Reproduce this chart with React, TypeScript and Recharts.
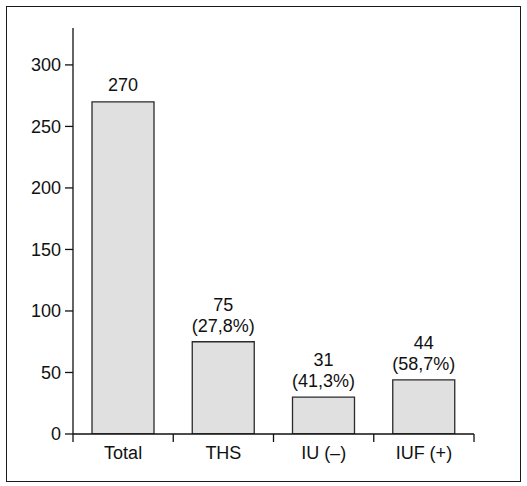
import { BarChart, Bar, XAxis, YAxis, LabelList } from "recharts";

const categories = ["Total", "THS", "IU (–)", "IUF (+)"];
const barValues = [270, 75, 30, 44];
const labelCounts = ["270", "75", "31", "44"];
const labelPercents = ["", "(27,8%)", "(41,3%)", "(58,7%)"];
const yTicks = [0, 50, 100, 150, 200, 250, 300];

const data = categories.map((name, i) => ({
  name,
  value: barValues[i],
  count: labelCounts[i],
  pct: labelPercents[i],
}));

const W = 527;
const H = 486;
const margin = { top: 28, right: 53, bottom: 0, left: 0 };
const Y_AXIS_W = 73;
const BAND = (W - Y_AXIS_W - margin.right) / categories.length;
const FONT = "'Liberation Sans', Arial, Helvetica, sans-serif";
const FS = 18;
const INK = "#111";

const CategoryTick = (props: any) => {
  const { x, y, payload, index } = props;
  const half = BAND / 2;
  return (
    <g>
      <line x1={x - half} x2={x - half} y1={y} y2={y + 8} stroke={INK} strokeWidth={1.3} />
      {index === categories.length - 1 && (
        <line x1={x + half} x2={x + half} y1={y} y2={y + 8} stroke={INK} strokeWidth={1.3} />
      )}
      <text x={x} y={y + 25} textAnchor="middle" fontSize={FS} fontFamily={FONT} fill={INK}>
        {payload.value}
      </text>
    </g>
  );
};

const BarTopLabel = (props: any) => {
  const { x, y, width, index } = props;
  const cx = x + width / 2;
  const row = data[index];
  if (!row.pct) {
    return (
      <text x={cx} y={y - 11} textAnchor="middle" fontSize={FS} fontFamily={FONT} fill={INK}>
        {row.count}
      </text>
    );
  }
  return (
    <g>
      <text x={cx} y={y - 31} textAnchor="middle" fontSize={FS} fontFamily={FONT} fill={INK}>
        {row.count}
      </text>
      <text x={cx} y={y - 10} textAnchor="middle" fontSize={FS} fontFamily={FONT} fill={INK}>
        {row.pct}
      </text>
    </g>
  );
};

export default function App() {
  return (
    <div style={{ position: "absolute", left: 0, top: 0, width: W, height: H, background: "#fff" }}>
      <div
        style={{
          position: "absolute",
          left: 6,
          top: 6,
          width: 515,
          height: 476,
          border: "1.5px solid #1a1a1a",
          boxSizing: "border-box",
        }}
      />
      <div style={{ position: "absolute", left: 0, top: 0 }}>
        <BarChart width={W} height={H} data={data} margin={margin} barSize={62}>
          <YAxis
            width={Y_AXIS_W}
            domain={[0, 330]}
            ticks={yTicks}
            allowDataOverflow
            tickSize={8}
            tickMargin={4}
            axisLine={{ stroke: INK, strokeWidth: 1.3 }}
            tickLine={{ stroke: INK, strokeWidth: 1.3 }}
            tick={{ fontSize: FS, fontFamily: FONT, fill: INK }}
          />
          <XAxis
            dataKey="name"
            height={52}
            interval={0}
            tickSize={0}
            tickMargin={0}
            tickLine={false}
            axisLine={{ stroke: INK, strokeWidth: 1.3 }}
            tick={<CategoryTick />}
          />
          <Bar dataKey="value" fill="#e0e0e0" stroke="#2a2a2a" strokeWidth={1.3} isAnimationActive={false}>
            <LabelList dataKey="count" content={<BarTopLabel />} />
          </Bar>
        </BarChart>
      </div>
    </div>
  );
}
